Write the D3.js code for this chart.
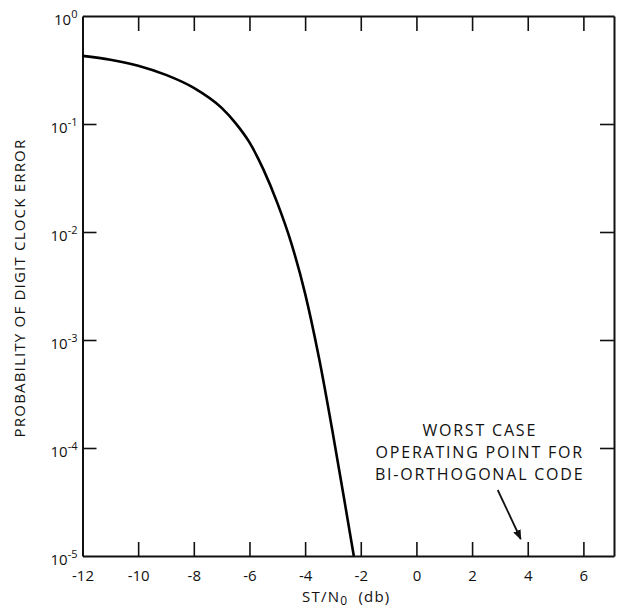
<!DOCTYPE html>
<html>
<head>
<meta charset="utf-8">
<script src="https://cdn.jsdelivr.net/npm/d3@7"></script>
<style>
  html, body { margin: 0; padding: 0; background: #fff; }
  svg { display: block; }
  text { font-family: "Open Sans", "DejaVu Sans", sans-serif; fill: #111; }
</style>
</head>
<body>
<svg id="chart" width="620" height="611"></svg>
<script>
// ---- data ----
const snrDb = [-12, -11, -10, -9, -8, -7, -6.5, -6, -5.5, -5, -4.5, -4, -3.5, -3, -2.5, -2.25];
const pError = [0.427, 0.394, 0.347, 0.285, 0.216, 0.141, 0.102, 0.0676, 0.038, 0.0186, 0.00794, 0.00269, 0.00068, 0.000135, 0.000024, 0.00001];
const xTicks = [-12, -10, -8, -6, -4, -2, 0, 2, 4, 6];
const yTicks = [1, 1e-1, 1e-2, 1e-3, 1e-4, 1e-5];
const yTickExp = ["0", "-1", "-2", "-3", "-4", "-5"];
const xTitle = ["ST/N", "0", "  (db)"];
const yTitle = "PROBABILITY OF DIGIT CLOCK ERROR";
const noteLines = ["WORST CASE", "OPERATING POINT FOR", "BI-ORTHOGONAL CODE"];
const notePoint = { x: 4, y: 1e-5 };

const svg = d3.select("#chart");
const L = 82.5, R = 614, T = 16, B = 556;

const x = d3.scaleLinear().domain([-12, 7.1]).range([L, R]);
const y = d3.scaleLog().domain([1, 1e-5]).range([T, B]);

const tickLen = 14;

// bottom axis
const gB = svg.append("g").attr("transform", `translate(0,${B})`)
  .call(d3.axisBottom(x).tickValues(xTicks).tickSizeInner(-tickLen).tickSizeOuter(0)
    .tickPadding(14).tickFormat(d => String(d)));
gB.selectAll("text").attr("font-size", 15).attr("fill", "#111");
gB.selectAll(".tick").filter(d => d === -12).select("line").remove();

// top axis
svg.append("g").attr("transform", `translate(0,${T})`)
  .call(d3.axisTop(x).tickValues(xTicks.filter(d => d !== -12)).tickSizeInner(-tickLen - 1).tickSizeOuter(0).tickFormat(""));

// left axis
const gL = svg.append("g").attr("transform", `translate(${L},0)`)
  .call(d3.axisLeft(y).tickValues(yTicks).tickSizeInner(-tickLen).tickSizeOuter(0).tickFormat(""));
gL.selectAll(".tick").filter(d => d === 1 || d === 1e-5).select("line").remove();
gL.selectAll(".tick").each(function(d) {
  const t = d3.select(this).append("text")
    .attr("x", -5).attr("y", 8).attr("text-anchor", "end")
    .attr("font-size", 15).attr("fill", "#111");
  t.append("tspan").text("10");
  t.append("tspan").attr("dy", -7).attr("font-size", 11).text(yTickExp[yTicks.indexOf(d)]);
});

// right axis
svg.append("g").attr("transform", `translate(${R},0)`)
  .call(d3.axisRight(y).tickValues(yTicks.filter(d => d !== 1 && d !== 1e-5)).tickSizeInner(-tickLen).tickSizeOuter(0).tickFormat(""));

svg.selectAll(".domain").attr("stroke", "#111").attr("stroke-width", 2);
svg.selectAll(".tick line").attr("stroke", "#111").attr("stroke-width", 1.6);

// curve
const line = d3.line().x((d, i) => x(snrDb[i])).y(d => y(d)).curve(d3.curveMonotoneX);
svg.append("path").datum(pError)
  .attr("d", line)
  .attr("fill", "none").attr("stroke", "#000").attr("stroke-width", 2.6);

// axis titles
const xt = svg.append("text").attr("x", (L + R) / 2 - 2).attr("y", 602)
  .attr("text-anchor", "middle").attr("font-size", 15).attr("letter-spacing", 1.2)
  .attr("xml:space", "preserve");
xt.append("tspan").text(xTitle[0]);
xt.append("tspan").attr("dy", 3).attr("font-size", 12).text(xTitle[1]);
xt.append("tspan").attr("dy", -3).text(xTitle[2]);

svg.append("text")
  .attr("transform", `translate(25,${(T + B) / 2 + 2}) rotate(-90)`)
  .attr("text-anchor", "middle").attr("font-size", 15).attr("letter-spacing", 1.2)
  .text(yTitle);

// annotation
const px = x(notePoint.x), py = y(notePoint.y);
svg.append("defs").append("marker")
  .attr("id", "ah").attr("viewBox", "0 0 10 10").attr("refX", 9).attr("refY", 5)
  .attr("markerWidth", 10).attr("markerHeight", 10).attr("markerUnits", "userSpaceOnUse")
  .attr("orient", "auto")
  .append("path").attr("d", "M0,1 L10,5 L0,9 Z").attr("fill", "#111");

svg.append("line")
  .attr("x1", px - 30).attr("y1", py - 66)
  .attr("x2", px - 7).attr("y2", py - 17)
  .attr("stroke", "#111").attr("stroke-width", 1.8)
  .attr("marker-end", "url(#ah)");

svg.append("g").selectAll("text").data(noteLines).join("text")
  .attr("x", px - 48).attr("y", (d, i) => py - 120 + i * 22)
  .attr("text-anchor", "middle").attr("font-size", 16).attr("letter-spacing", 1.8)
  .text(d => d);
</script>
</body>
</html>
